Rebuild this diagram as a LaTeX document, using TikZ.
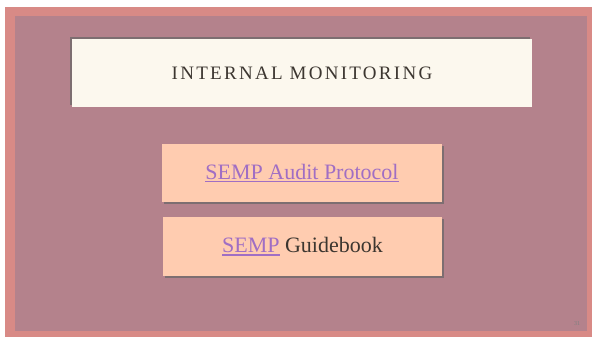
\documentclass[tikz,border=0pt]{standalone}
\usepackage{fontspec}
\setmainfont{Liberation Serif}
\definecolor{framec}{HTML}{D88A86}
\definecolor{slidec}{HTML}{B4828C}
\definecolor{titlec}{HTML}{FCF8EE}
\definecolor{boxc}{HTML}{FFCCB0}
\definecolor{linkc}{HTML}{A06EC4}
\definecolor{inkc}{HTML}{3C3630}
\tikzset{
  titlebox/.style={fill=titlec, minimum width=460pt, minimum height=68pt, inner sep=0pt},
  linkbox/.style={fill=boxc, minimum width=280pt, minimum height=58pt, inner sep=0pt},
  shade/.style={fill=black!60, opacity=0.7}
}
\newcommand{\lnk}[1]{\textcolor{linkc}{\setbox0\hbox{#1}\rlap{\rule[-3pt]{\wd0}{1.4pt}}\box0}}
\begin{document}
\begin{tikzpicture}[x=1pt, y=-1pt]
  \useasboundingbox (0,0) rectangle (592,337);
  \fill[white] (0,0) rectangle (592,337);
  \fill[framec] (5,7) rectangle (592,337);
  \fill[slidec] (15,16) rectangle (587,331);
  % title
  \fill[shade] (70,37) rectangle (530,105);
  \node[titlebox] (title) at (302,73) {};
  \node[inkc, font=\fontsize{19}{22}\selectfont\addfontfeature{LetterSpace=12}] (titletext) at (title) {INTERNAL MONITORING};
  % links
  \fill[shade] (164,146) rectangle (444,204);
  \node[linkbox] (audit) at (302,173) {};
  \node[font=\fontsize{22}{26}\selectfont] (audittext) at (audit) {\lnk{SEMP Audit Protocol}};
  \fill[shade] (165,219) rectangle (444,278);
  \node[linkbox, minimum width=279pt, minimum height=59pt] (guide) at (302.5,246.5) {};
  \node[font=\fontsize{22}{26}\selectfont, inkc] (guidetext) at (guide) {\lnk{SEMP} Guidebook};
  \node[font=\fontsize{6}{7}\selectfont, text=black!50] (page) at (577,324) {31};
\end{tikzpicture}
\end{document}
